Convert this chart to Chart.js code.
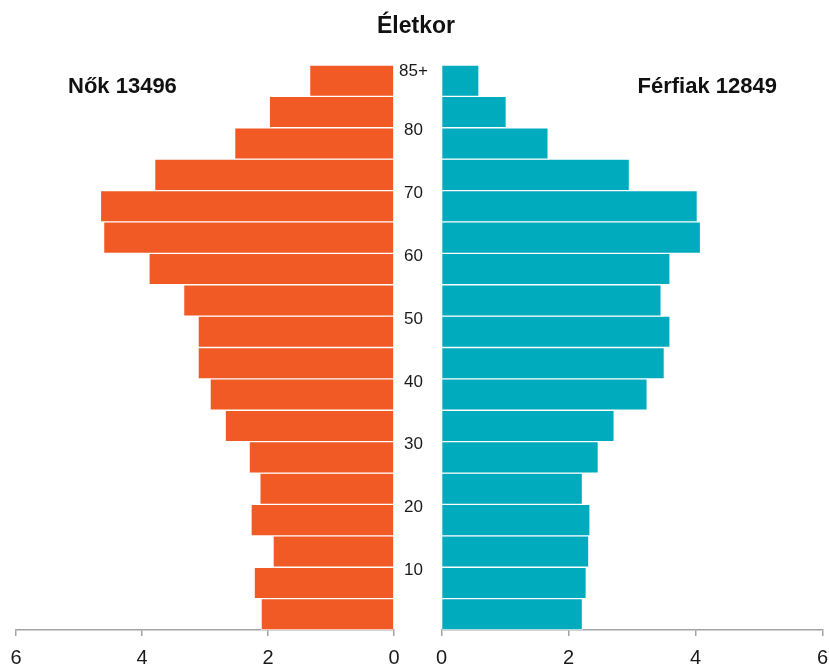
<!DOCTYPE html>
<html lang="hu">
<head>
<meta charset="utf-8">
<title>Életkor</title>
<script src="https://cdn.jsdelivr.net/npm/chart.js@4.4.1/dist/chart.umd.min.js"></script>
<style>
  html, body { margin: 0; padding: 0; background: #fff; overflow: hidden; }
  #wrap { position: relative; width: 829px; height: 665px; overflow: hidden; font-family: 'Liberation Sans', Arial, sans-serif; color: #111; }
  .lbl { position: absolute; font-weight: bold; line-height: 1; white-space: nowrap; }
  #title { left: 0; width: 832px; text-align: center; top: 14px; font-size: 23px; }
  #women { left: 68px; top: 75px; font-size: 22px; }
  #men { right: 52px; top: 75px; font-size: 22px; }
  .box { position: absolute; top: 0; height: 665px; }
  #leftBox { left: 0; width: 431px; }
  #rightBox { left: 426px; width: 412px; }
</style>
</head>
<body>
<div id="wrap">
  <div class="box" id="leftBox"><canvas id="leftChart"></canvas></div>
  <div class="box" id="rightBox"><canvas id="rightChart"></canvas></div>
  <div class="lbl" id="title">Életkor</div>
  <div class="lbl" id="women">Nők 13496</div>
  <div class="lbl" id="men">Férfiak 12849</div>
</div>
<script>
// age groups, youngest first (values in %)
const ageGroups = ['0-4', '5-9', '10-14', '15-19', '20-24', '25-29', '30-34', '35-39', '40-44',
                   '45-49', '50-54', '55-59', '60-64', '65-69', '70-74', '75-79', '80-84', '85+'];
const ageStart = [0, 5, 10, 15, 20, 25, 30, 35, 40, 45, 50, 55, 60, 65, 70, 75, 80, 85];
const women = [2.11, 2.22, 1.92, 2.27, 2.13, 2.30, 2.68, 2.92, 3.11, 3.11, 3.34, 3.89, 4.61, 4.66, 3.80, 2.53, 1.98, 1.34];
const men   = [2.22, 2.28, 2.32, 2.34, 2.22, 2.47, 2.72, 3.24, 3.51, 3.60, 3.46, 3.60, 4.08, 4.03, 2.96, 1.68, 1.02, 0.59];

// age axis labels in the middle column
const ageTickValues = [10, 20, 30, 40, 50, 60, 70, 80, 89.5];
const ageTickLabels = ['10', '20', '30', '40', '50', '60', '70', '80', '85+'];

const textColor = '#1a1a1a';
const axisColor = '#a3a3a3';

function pyramidSide(canvasId, label, values, color, isLeft) {
  return new Chart(document.getElementById(canvasId), {
    type: 'bar',
    data: {
      datasets: [{
        label: label,
        data: values.map((v, i) => ({ x: v, y: ageStart[i] + 2.5 })),
        backgroundColor: color,
        borderColor: 'rgba(255,255,255,0.85)',
        borderWidth: 1,
        barPercentage: 1,
        categoryPercentage: 1
      }]
    },
    options: {
      indexAxis: 'y',
      responsive: true,
      maintainAspectRatio: false,
      animation: false,
      layout: {
        padding: isLeft ? { left: 16, top: 65, right: 0, bottom: 0 }
                        : { left: 0, top: 65, right: 0, bottom: 0 }
      },
      plugins: {
        legend: { display: false },
        tooltip: { enabled: false }
      },
      scales: {
        x: {
          type: 'linear',
          min: 0,
          max: 6,
          reverse: isLeft,
          ticks: { stepSize: 2, padding: 10, color: textColor, font: { size: 20 } },
          grid: { display: true, drawOnChartArea: false, drawTicks: true, tickLength: 6, color: axisColor, lineWidth: 1.5 },
          border: { display: true, color: axisColor, width: 1.5 },
          afterFit: s => { s.height = 35; }
        },
        y: {
          type: 'linear',
          min: 0,
          max: 90,
          offset: false,
          position: 'right',
          display: isLeft,
          afterBuildTicks: s => { s.ticks = ageTickValues.map(v => ({ value: v })); },
          ticks: {
            autoSkip: false,
            crossAlign: 'center',
            padding: 5,
            labelOffset: 3,
            color: textColor,
            font: { size: 17 },
            callback: v => ageTickLabels[ageTickValues.indexOf(v)]
          },
          grid: { display: false, drawTicks: false },
          border: { display: false },
          afterFit: s => { s.width = isLeft ? 37 : 0; }
        }
      }
    }
  });
}

Chart.defaults.font.family = "'Liberation Sans', Arial, sans-serif";
pyramidSide('leftChart', 'Nők', women, '#f15a24', true);
pyramidSide('rightChart', 'Férfiak', men, '#00abbd', false);
</script>
</body>
</html>
